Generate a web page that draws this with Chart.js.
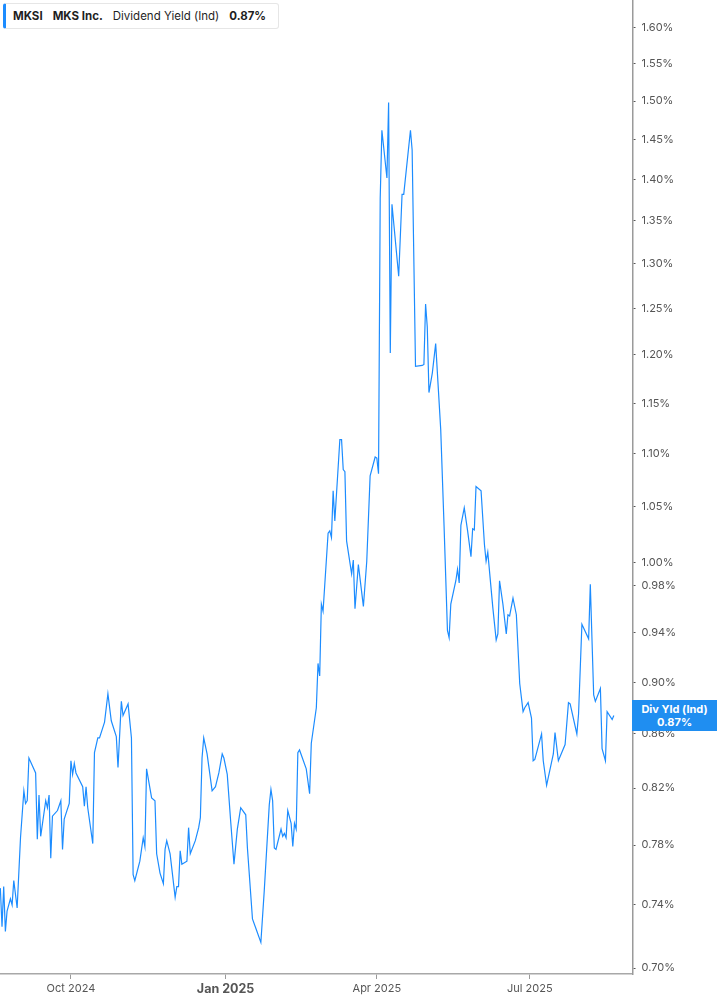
<!DOCTYPE html>
<html>
<head>
<meta charset="utf-8">
<script src="https://cdn.jsdelivr.net/npm/chart.js@4.4.1/dist/chart.umd.min.js"></script>
<style>
  html, body { margin: 0; padding: 0; background: #fff; }
  #wrap { position: relative; width: 717px; height: 1005px; }
  #c { position: absolute; left: 0; top: 0; }
  #legend {
    position: absolute; left: 3px; top: 3px; height: 26px; padding: 0 12px 0 7px;
    background: #fff; border: 1px solid #e6e6e6; border-left: 3px solid #1c8cff;
    border-radius: 3px; font-family: Inter, "Noto Sans", sans-serif; font-size: 11.5px;
    color: #1f1f1f; display: flex; align-items: center; white-space: nowrap; box-sizing: border-box;
  }
  #legend b { font-weight: 700; }
  #legend span { margin-right: 10px; }
  #badge {
    position: absolute; right: 0; width: 85px; height: 31px; background: #1f8ef1;
    color: #fff; font-family: Inter, "Noto Sans", sans-serif; font-weight: 700; font-size: 11px;
    line-height: 13px; text-align: center; display: flex; flex-direction: column; justify-content: center;
  }
</style>
</head>
<body>
<div id="wrap">
  <canvas id="c" width="717" height="1005"></canvas>
  <div id="legend"><span><b>MKSI</b></span><span><b>MKS Inc.</b></span><span>Dividend Yield (Ind)</span><b>0.87%</b></div>
  <div id="badge"><div>Div Yld (Ind)</div><div>0.87%</div></div>
</div>
<script>
const dates = [
'2024-08-20','2024-08-21','2024-08-22','2024-08-23','2024-08-24','2024-08-26','2024-08-27','2024-08-28','2024-08-30','2024-09-01',
'2024-09-03','2024-09-04','2024-09-05','2024-09-06','2024-09-10','2024-09-11','2024-09-12','2024-09-13','2024-09-16','2024-09-17',
'2024-09-18','2024-09-19','2024-09-20','2024-09-23','2024-09-25','2024-09-26','2024-09-27','2024-09-30','2024-10-01','2024-10-02',
'2024-10-03','2024-10-04','2024-10-08','2024-10-09','2024-10-10','2024-10-11','2024-10-14','2024-10-15','2024-10-17','2024-10-18',
'2024-10-21','2024-10-23','2024-10-25','2024-10-28','2024-10-29','2024-10-31','2024-11-01','2024-11-04','2024-11-06','2024-11-07',
'2024-11-08','2024-11-11','2024-11-13','2024-11-14','2024-11-15','2024-11-18','2024-11-20','2024-11-21','2024-11-23','2024-11-25',
'2024-11-26','2024-11-27','2024-11-29','2024-12-02','2024-12-03','2024-12-04','2024-12-05','2024-12-06','2024-12-09','2024-12-10',
'2024-12-11','2024-12-14','2024-12-16','2024-12-17','2024-12-18','2024-12-19','2024-12-21','2024-12-24','2024-12-26','2024-12-28',
'2024-12-30','2024-12-31','2025-01-02','2025-01-04','2025-01-06','2025-01-08','2025-01-10','2025-01-13','2025-01-14','2025-01-17',
'2025-01-19','2025-01-22','2025-01-24','2025-01-27','2025-01-28','2025-01-29','2025-01-30','2025-01-31','2025-02-03','2025-02-04',
'2025-02-05','2025-02-06','2025-02-07','2025-02-09','2025-02-10','2025-02-11','2025-02-12','2025-02-13','2025-02-14','2025-02-18',
'2025-02-20','2025-02-21','2025-02-24','2025-02-25','2025-02-26','2025-02-27','2025-02-28','2025-03-03','2025-03-04','2025-03-05',
'2025-03-06','2025-03-07','2025-03-10','2025-03-11','2025-03-12','2025-03-13','2025-03-14','2025-03-17','2025-03-18','2025-03-19',
'2025-03-21','2025-03-24','2025-03-26','2025-03-28','2025-03-31','2025-04-01','2025-04-02','2025-04-03','2025-04-04','2025-04-07',
'2025-04-08','2025-04-09','2025-04-10','2025-04-14','2025-04-16','2025-04-17','2025-04-21','2025-04-22','2025-04-24','2025-04-28',
'2025-04-29','2025-04-30','2025-05-01','2025-05-02','2025-05-04','2025-05-06','2025-05-09','2025-05-11','2025-05-13',
'2025-05-14','2025-05-15','2025-05-18','2025-05-19','2025-05-20','2025-05-21','2025-05-23','2025-05-25','2025-05-27','2025-05-28',
'2025-05-29','2025-05-30','2025-06-02','2025-06-04','2025-06-05','2025-06-06','2025-06-09','2025-06-11','2025-06-12','2025-06-13',
'2025-06-15','2025-06-17','2025-06-18','2025-06-19','2025-06-21','2025-06-23','2025-06-25','2025-06-27','2025-06-28','2025-06-30',
'2025-07-02','2025-07-03','2025-07-04','2025-07-08','2025-07-09','2025-07-11','2025-07-15','2025-07-16','2025-07-18','2025-07-22',
'2025-07-24','2025-07-25','2025-07-29','2025-07-30','2025-08-01','2025-08-05','2025-08-06','2025-08-08','2025-08-09','2025-08-12',
'2025-08-13','2025-08-15','2025-08-16','2025-08-19','2025-08-20'
];
const divYield = [
0.751,0.726,0.752,0.723,0.736,0.744,0.740,0.756,0.738,0.785,
0.818,0.809,0.811,0.842,0.831,0.784,0.815,0.786,0.811,0.806,
0.815,0.771,0.800,0.804,0.811,0.777,0.798,0.809,0.840,0.830,
0.838,0.831,0.821,0.807,0.821,0.806,0.781,0.846,0.857,0.857,
0.869,0.891,0.870,0.858,0.835,0.885,0.874,0.883,0.857,0.760,
0.756,0.769,0.785,0.779,0.834,0.813,0.811,0.774,0.761,0.754,
0.777,0.783,0.774,0.745,0.752,0.752,0.776,0.767,0.769,0.792,
0.774,0.783,0.792,0.799,0.842,0.857,0.845,0.818,0.821,0.831,
0.845,0.842,0.830,0.797,0.767,0.791,0.806,0.801,0.778,0.731,
0.725,0.716,0.749,0.808,0.819,0.811,0.778,0.777,0.791,0.786,
0.788,0.785,0.804,0.795,0.779,0.795,0.791,0.846,0.848,0.834,
0.816,0.853,0.880,0.915,0.905,0.964,0.958,1.026,1.028,1.022,
1.065,1.037,1.114,1.114,1.085,1.083,1.019,0.990,1.002,0.960,
0.998,0.962,1.001,1.079,1.097,1.096,1.081,1.377,1.462,1.402,
1.498,1.202,1.370,1.286,1.382,1.382,1.462,1.437,1.188,1.189,
1.190,1.255,1.230,1.161,1.181,1.212,1.124,1.032,0.942,
0.936,0.964,0.984,0.994,0.982,1.033,1.049,1.028,1.005,1.030,
1.029,1.069,1.065,1.016,1.001,1.009,0.961,0.934,0.939,0.984,
0.964,0.939,0.955,0.954,0.969,0.955,0.899,0.877,0.880,0.884,
0.872,0.840,0.841,0.860,0.840,0.822,0.845,0.861,0.840,0.852,
0.884,0.883,0.860,0.875,0.947,0.935,0.981,0.890,0.885,0.895,
0.849,0.840,0.877,0.871,0.874
];
const yTickValues = [0.70,0.74,0.78,0.82,0.86,0.90,0.94,0.98,1.00,1.05,1.10,1.15,1.20,1.25,1.30,1.35,1.40,1.45,1.50,1.55,1.60];
const xTickDates = ['2024-10-01','2025-01-01','2025-04-01','2025-07-01'];
const xTickLabels = ['Oct 2024','Jan 2025','Apr 2025','Jul 2025'];
const boldTick = 'Jan 2025';
const yMin = 0.6964, yMax = 1.6394;
const xStart = '2024-08-19', xStartFrac = 0.8, xSpanDays = 376.3;

const toDay = s => { const [y,m,d] = s.split('-').map(Number); return Date.UTC(y, m-1, d) / 864e5; };
const xTicks = xTickDates.map(toDay);
const points = dates.map((d,i) => ({ x: toDay(d), y: divYield[i] }));
const xMin = toDay(xStart) + xStartFrac;
const xMax = xMin + xSpanDays;
const lineColor = '#1c8cff';
const tickFont = { family: 'Inter, "Noto Sans", sans-serif', size: 11 };

const badgePlugin = {
  id: 'badge',
  afterRender(chart) {
    const y = chart.scales.y.getPixelForValue(divYield[divYield.length - 1]);
    const b = document.getElementById('badge');
    b.style.top = (y - 15.5) + 'px';
  }
};

new Chart(document.getElementById('c'), {
  type: 'line',
  data: { datasets: [{ data: points, borderColor: lineColor, borderWidth: 1.2, pointRadius: 0, tension: 0, fill: false }] },
  options: {
    responsive: false, animation: false, devicePixelRatio: 1,
    layout: { padding: 0 },
    plugins: { legend: { display: false }, tooltip: { enabled: false } },
    scales: {
      x: {
        type: 'linear', min: xMin, max: xMax,
        afterBuildTicks: s => { s.ticks = xTicks.map(v => ({ value: v })); },
        afterFit: s => { s.height = 31; s.paddingLeft = 0; s.paddingRight = 0; },
        grid: { drawOnChartArea: false, drawTicks: true, tickLength: 5, tickColor: '#9a9a9a' },
        border: { display: true, color: '#a8a8a8', width: 1.5 },
        ticks: {
          autoSkip: false, maxRotation: 0, padding: 3, color: '#555',
          callback: v => xTickLabels[xTicks.indexOf(v)] ?? '',
          font: ctx => (xTickLabels[xTicks.indexOf(ctx.tick && ctx.tick.value)] === boldTick)
            ? { family: tickFont.family, size: 12.5, weight: 'bold' }
            : { family: tickFont.family, size: 11 }
        }
      },
      y: {
        type: 'logarithmic', position: 'right', min: yMin, max: yMax,
        afterBuildTicks: s => { s.ticks = yTickValues.map(v => ({ value: v })); },
        afterFit: s => { s.width = 84.5; s.paddingTop = 0; s.paddingBottom = 0; },
        grid: { drawOnChartArea: false, drawTicks: true, tickLength: 3, tickColor: '#555' },
        border: { display: true, color: '#9a9a9a', width: 1.5 },
        ticks: {
          autoSkip: false, padding: 6, color: '#555', font: tickFont,
          callback: v => Number(v).toFixed(2) + '%'
        }
      }
    }
  },
  plugins: [badgePlugin]
});
</script>
</body>
</html>
